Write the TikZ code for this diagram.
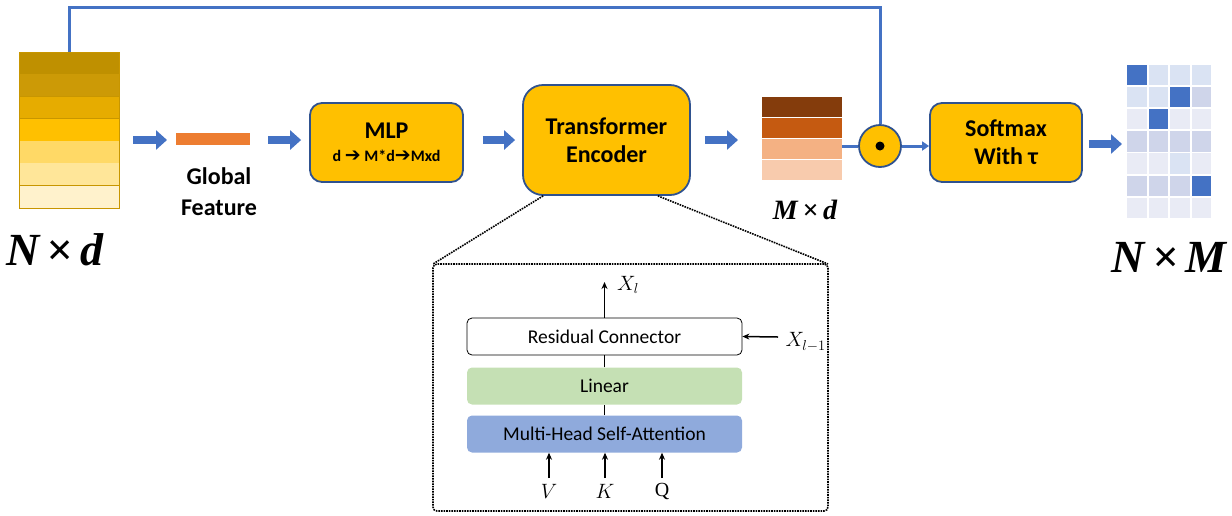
\documentclass[tikz,border=0pt]{standalone}
\usepackage{fontspec}
\setmainfont{Carlito}
\newfontfamily\dejavu{DejaVu Sans}
\newfontfamily\dimfont{Liberation Serif}
\usetikzlibrary{arrows.meta}
\definecolor{gold}{HTML}{FFC000}
\definecolor{bord}{HTML}{2F528F}
\definecolor{ablue}{HTML}{4472C4}
\definecolor{orng}{HTML}{ED7D31}
\definecolor{lgreen}{HTML}{C5E0B4}
\definecolor{lblue}{HTML}{8FAADC}
\definecolor{mA}{HTML}{DAE3F3}
\definecolor{mB}{HTML}{CFD5EA}
\definecolor{mC}{HTML}{E9EBF5}
\definecolor{stkline}{HTML}{C89600}
\newcommand{\bigarr}{{\dejavu\bfseries\fontsize{19}{18}\selectfont ➔}}
\tikzset{
  goldbox/.style={draw=bord, line width=1.8pt, fill=gold, rounded corners=12pt, align=center, font=\bfseries\fontsize{24}{28}\selectfont},
  blockarrow/.style={draw=ablue, line width=8pt, -{Triangle[width=19pt,length=11pt]}},
  blueline/.style={draw=ablue, line width=3pt},
  innerbox/.style={minimum width=275pt, minimum height=37pt, rounded corners=5pt, font=\fontsize{19.5}{22}\selectfont},
  blackarrow/.style={draw=black, line width=1.5pt, -{Stealth[length=7pt,width=6pt]}},
  ghost/.style={inner sep=0pt, outer sep=0pt},
  mathlbl/.style={font=\fontsize{20}{22}\selectfont},
  dimlbl/.style={font=\dimfont\bfseries\itshape\fontsize{46}{50}\selectfont},
}
\begin{document}
\begin{tikzpicture}[x=1pt,y=-1pt]
\useasboundingbox (0,0) rectangle (1232,515);
% left stack N x d
\node[ghost, minimum width=100pt, minimum height=156pt] (nd) at (69,130) {};
\foreach \cc [count=\ii from 0] in {BF9000,CC9A06,E6AC00,FFC000,FFD966,FFE699,FFF2CC}{
  \definecolor{tmp}{HTML}{\cc}
  \fill[fill=tmp] (19,52+\ii*22.29) rectangle (119,52+\ii*22.29+22.29);
  \draw[draw=stkline, line width=0.8pt] (19,52+\ii*22.29+22.29) -- (119,52+\ii*22.29+22.29);
}
\draw[draw=stkline, line width=0.8pt] (19,52) rectangle (119,208);
% global feature bar
\node[ghost, fill=orng, minimum width=74pt, minimum height=12pt] (bar) at (213,139) {};
\node[font=\bfseries\fontsize{24}{31}\selectfont, align=center] (gf) at (219,192) {Global\\Feature};
% MLP
\node[goldbox, minimum width=153pt, minimum height=79pt] (mlp) at (386.5,142.5) {MLP\\[-5pt]{\fontsize{16}{18}\selectfont d \bigarr{} M*d\bigarr{}Mxd}};
% Transformer encoder
\node[goldbox, rounded corners=20pt, minimum width=167pt, minimum height=110pt] (te) at (606.5,140) {Transformer\\Encoder};
% M x d stack
\node[ghost, minimum width=80pt, minimum height=84pt] (md) at (802,139) {};
\foreach \cc [count=\ii from 0] in {843C0C,C55A11,F4B183,F8CBAD}{
  \definecolor{tmp}{HTML}{\cc}
  \fill[fill=tmp] (762,97+\ii*21) rectangle (842,97+\ii*21+20);
}
% circle
\node[circle, draw=bord, line width=1.8pt, fill=gold, minimum size=42pt] (circ) at (880,146) {};
\fill[black] (circ.center) circle (4.5);
% softmax
\node[goldbox, minimum width=152pt, minimum height=79pt] (soft) at (1006,142.5) {Softmax\\With τ};
% matrix N x M
\node[ghost, minimum width=86pt, minimum height=156pt] (mat) at (1169,142) {};
\foreach \kk/\rr/\colname in {0/0/ablue,1/0/mA,2/0/mA,3/0/mA,
  0/1/mA,1/1/mA,2/1/ablue,3/1/mB,
  0/2/mC,1/2/ablue,2/2/mC,3/2/mC,
  0/3/mB,1/3/mB,2/3/mB,3/3/mB,
  0/4/mC,1/4/mC,2/4/mA,3/4/mC,
  0/5/mB,1/5/mB,2/5/mB,3/5/ablue,
  0/6/mC,1/6/mC,2/6/mC,3/6/mC}{
  \fill[fill=\colname] (1127+\kk*21.5,65+\rr*22.1) rectangle (1127+\kk*21.5+19.7,65+\rr*22.1+20.2);
}
% dimension labels
\node[dimlbl] (ndl) at (55,250) {N\,×\,d};
\node[dimlbl, font=\dimfont\bfseries\itshape\fontsize{28}{30}\selectfont] (mdl) at (805,210) {M\,×\,d};
\node[dimlbl] (nml) at (1169,257) {N\,×\,M};
% block arrows
\coordinate (a1s) at (133,140); \coordinate (a1e) at (167,140);
\draw[blockarrow] (nd.east |- a1s) ++(14,0) -- ([xshift=-9pt]bar.west |- a1e);
\draw[blockarrow] ([xshift=18pt]bar.east |- a1s) -- ([xshift=-8pt]mlp.west |- a1s);
\draw[blockarrow] ([xshift=19pt]mlp.east |- a1s) -- ([xshift=-7pt]te.west |- a1s);
\draw[blockarrow] ([xshift=14pt]te.east) -- ([xshift=-24pt]md.west |- te.east);
\coordinate (a5) at (1100,144);
\draw[blockarrow] ([xshift=6pt]soft.east |- a5) -- ([xshift=-4pt]mat.west |- a5);
% connectors round the dot product
\draw[blueline] (nd.north) -- ++(0,-45) -| (circ.north);
\draw[blueline] (842,146) -- (circ.west);
\draw[blueline, -{Triangle[width=9pt,length=7pt]}] (circ.east) -- (soft.west |- circ.east);
% zoom-in box
\node[ghost, draw=black, densely dotted, line width=1.6pt, rounded corners=4pt, minimum width=395pt, minimum height=247pt] (zoom) at (630.5,387.5) {};
\draw[black, densely dotted, line width=1.6pt] ([xshift=21pt]te.south west) -- (zoom.north west);
\draw[black, densely dotted, line width=1.6pt] ([xshift=-33pt]te.south east) -- (zoom.north east);
% inner blocks
\node[innerbox, draw=black, line width=0.8pt, fill=white] (res) at (604.5,336.5) {Residual Connector};
\node[innerbox, fill=lgreen] (lin) at (604.5,386) {Linear};
\node[innerbox, fill=lblue] (mhsa) at (604.5,434) {Multi-Head Self-Attention};
\draw[black, line width=1.5pt] (mhsa.north) -- (lin.south);
\draw[black, line width=1.5pt] (lin.north) -- (res.south);
\coordinate (xtop) at (604.5,282);
\draw[blackarrow] (res.north) -- (xtop);
\node[mathlbl] (xl) at (628,285) {$X_l$};
\coordinate (xin) at (778,337);
\draw[blackarrow] (xin) -- (res.east);
\node[mathlbl, anchor=west] (xlm) at (782,342) {$X_{l-1}$};
\coordinate (vin) at (549,478);
\coordinate (kin) at (605,478);
\coordinate (qin) at (662,478);
\draw[blackarrow] (vin) -- (vin |- mhsa.south);
\draw[blackarrow] (kin) -- (kin |- mhsa.south);
\draw[blackarrow] (qin) -- (qin |- mhsa.south);
\node[mathlbl] (vl) at (549,491) {$V$};
\node[mathlbl] (kl) at (605,491) {$K$};
\node[mathlbl, font=\dimfont\fontsize{20}{22}\selectfont] (ql) at (662,491) {Q};
\end{tikzpicture}
\end{document}
